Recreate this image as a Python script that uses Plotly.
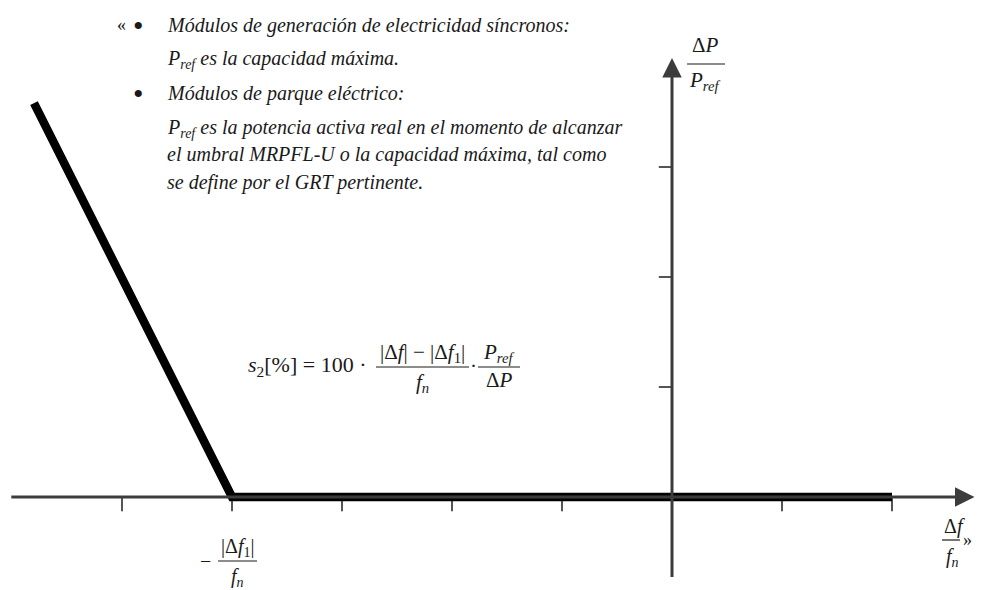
import plotly.graph_objects as go

# Response curve, in units of one tick spacing on each axis
curve_x = [-5.8, -4, 2]
curve_y = [3.58, 0, 0]

x_ticks = [-5, -4, -3, -2, -1, 1, 2]
y_ticks = [1, 2, 3]
x_axis_ends = [-6.02, 2.75]
y_axis_ends = [-0.74, 3.99]

note_lines = [
    "Módulos de generación de electricidad síncronos:",
    "P<sub>ref</sub> es la capacidad máxima.",
    "Módulos de parque eléctrico:",
    "P<sub>ref</sub> es la potencia activa real en el momento de alcanzar",
    "el umbral MRPFL-U o la capacidad máxima, tal como",
    "se define por el GRT pertinente.",
]

W, H = 981, 590
FONT = "Liberation Serif"
INK = "#1a1a1a"
AXIS = "#3c3c3c"


def px(x, y):
    # pixel position -> paper coords
    return x / W, 1 - y / H


fig = go.Figure()

# tick marks
tx, ty = [], []
for t in x_ticks:
    tx += [t, t, None]
    ty += [0, -0.13, None]
for t in y_ticks:
    tx += [-0.12, 0, None]
    ty += [t, t, None]
fig.add_trace(go.Scatter(x=tx, y=ty, mode="lines",
                         line=dict(color="#555", width=2), hoverinfo="skip"))

# axis arrows
fig.add_annotation(x=x_axis_ends[1], y=0, ax=x_axis_ends[0], ay=0,
                   xref="x", yref="y", axref="x", ayref="y", text="",
                   showarrow=True, arrowhead=2, arrowsize=1.3, arrowwidth=3,
                   arrowcolor=AXIS)
fig.add_annotation(x=0, y=y_axis_ends[1], ax=0, ay=y_axis_ends[0],
                   xref="x", yref="y", axref="x", ayref="y", text="",
                   showarrow=True, arrowhead=2, arrowsize=1.3, arrowwidth=3,
                   arrowcolor=AXIS)

# the characteristic
fig.add_trace(go.Scatter(x=curve_x, y=curve_y, mode="lines",
                         line=dict(color="black", width=8.5), hoverinfo="skip"))


def text(x, y, s, size=20, anchor="left"):
    xp, yp = px(x, y)
    fig.add_annotation(x=xp, y=yp, xref="paper", yref="paper", text=s,
                       showarrow=False, xanchor=anchor, yanchor="middle",
                       font=dict(family=FONT, size=size, color=INK))


def bar(x0, x1, y):
    a, b = px(x0, y)
    c, _ = px(x1, y)
    fig.add_shape(type="line", xref="paper", yref="paper", x0=a, x1=c, y0=b, y1=b,
                  line=dict(color=INK, width=1.2))


# note block
note_y = [25, 60, 94, 128, 155, 182]
for s, y in zip(note_lines, note_y):
    text(165, y, "<i>" + s + "</i>")
text(121, 25, "«", size=18, anchor="center")
text(138, 25, "•", size=30, anchor="center")
text(138, 94, "•", size=30, anchor="center")

# slope formula
text(246, 366, "<i>s</i><sub>2</sub>[%] = 100 ·", size=22)
text(422, 353, "|Δ<i>f</i>| − |Δ<i>f</i><sub>1</sub>|", size=21, anchor="center")
bar(376, 469, 367)
text(422, 383, "<i>f<sub>n</sub></i>", size=21, anchor="center")
text(473, 366, "·", size=21, anchor="center")
text(499, 353, "<i>P<sub>ref</sub></i>", size=21, anchor="center")
bar(478, 520, 367)
text(499, 380, "Δ<i>P</i>", size=21, anchor="center")

# x-axis marker label
text(205, 561, "−", anchor="center")
text(237, 547, "|Δ<i>f</i><sub>1</sub>|", anchor="center")
bar(218, 257, 561)
text(237, 577, "<i>f<sub>n</sub></i>", anchor="center")

# axis titles
text(705, 45, "Δ<i>P</i>", size=21, anchor="center")
bar(687, 725, 64)
text(705, 81, "<i>P<sub>ref</sub></i>", size=21, anchor="center")

text(954, 526, "Δ<i>f</i>", anchor="center")
bar(942, 960, 540)
text(952, 557, "<i>f<sub>n</sub></i>", anchor="center")
text(967, 540, "»", size=18, anchor="center")

fig.update_layout(
    width=W, height=H,
    margin=dict(l=0, r=0, t=0, b=0),
    showlegend=False,
    plot_bgcolor="white", paper_bgcolor="white",
    xaxis=dict(range=[-672 / 110, 309 / 110], visible=False, fixedrange=True),
    yaxis=dict(range=[-93 / 110, 497 / 110], visible=False, fixedrange=True),
)

# page body has an 8px default margin; drop it so the figure sits at 0,0
fig.write_html("out.html", config={"displayModeBar": False},
               post_script="document.body.style.margin='0';")
